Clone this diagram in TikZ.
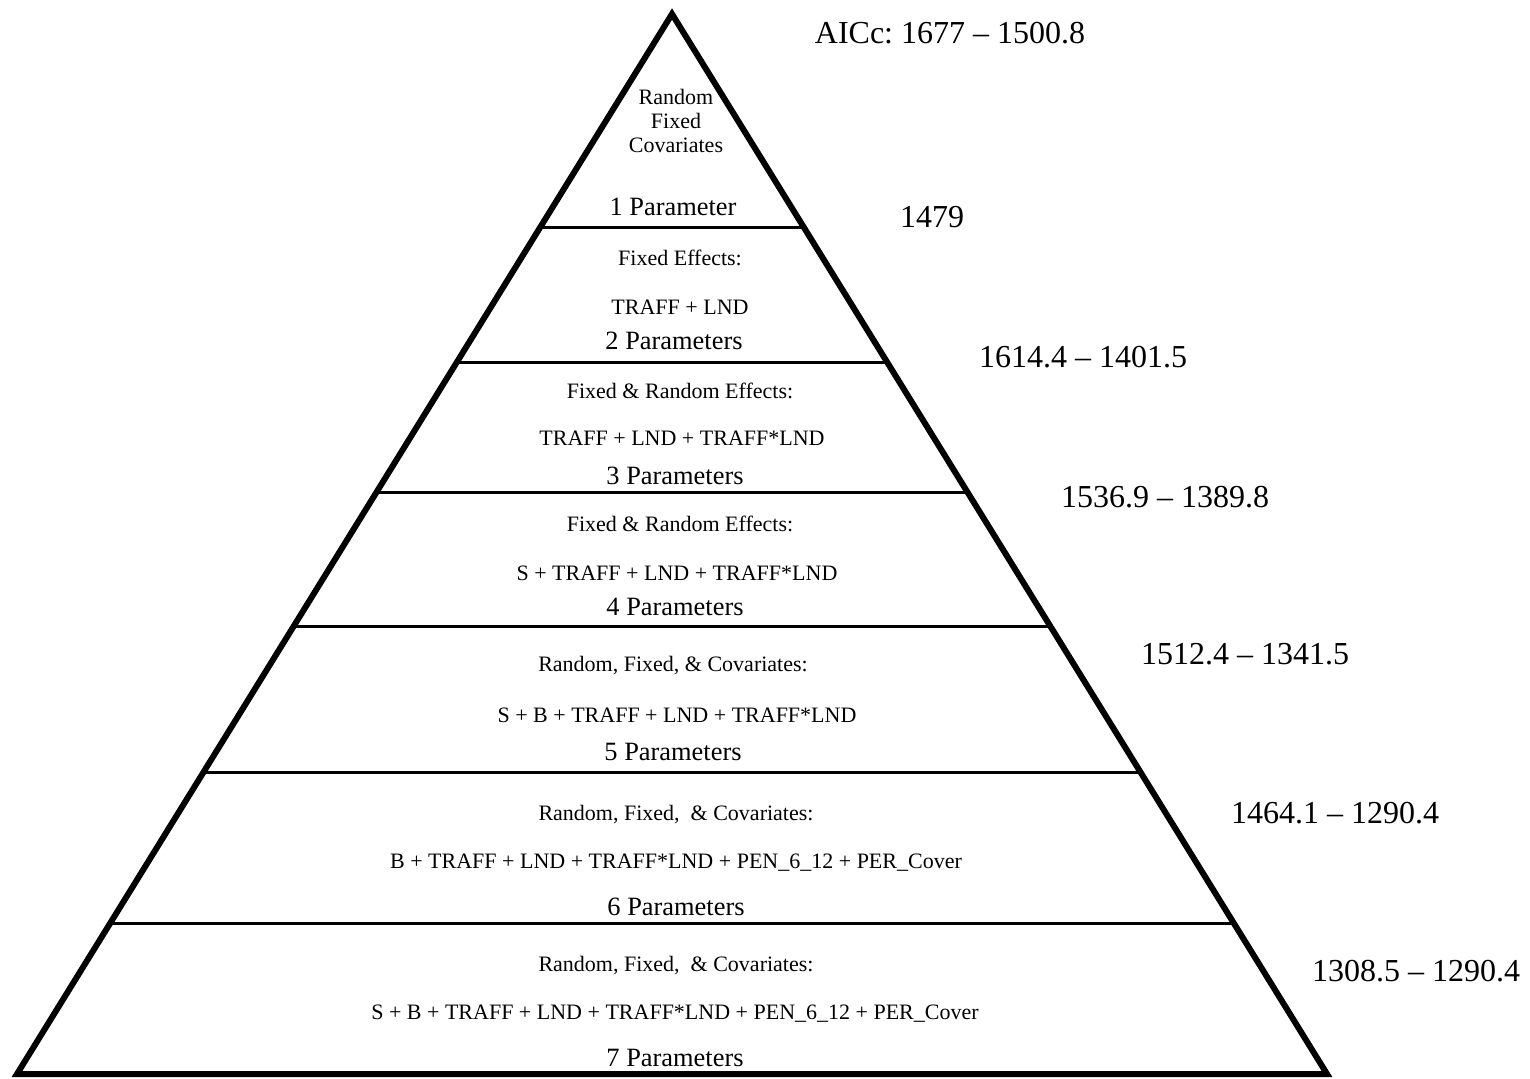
\documentclass[tikz,border=0pt]{standalone}
\usepackage{fontspec}
\setmainfont{Liberation Serif}
\usetikzlibrary{calc}
\frenchspacing

\begin{document}
\begin{tikzpicture}[x=0.5pt,y=-0.5pt,
  sm/.style={font=\fontsize{11}{12}\selectfont,inner sep=0pt},
  par/.style={font=\fontsize{13.2}{14}\selectfont,inner sep=0pt},
  aic/.style={font=\fontsize{16}{18}\selectfont,inner sep=0pt},
  edge/.style={line width=3pt,line join=miter},
  tier/.style={line width=1.5pt}]
\useasboundingbox (0,0) rectangle (1530,1079);
\coordinate (apex) at (672,14);
\coordinate (bl) at (17,1074);
\coordinate (br) at (1327,1074);
% tier dividers
\foreach \y in {228,363,493,627,773,923}
  \draw[tier] ($(apex)!{(\y-14)/1060}!(bl)$) -- ($(apex)!{(\y-14)/1060}!(br)$);
\draw[edge] (apex) -- (bl) -- (br) -- cycle;
% tier 1
\node[sm,align=center] (r1) at (676,121) {Random\\Fixed\\Covariates};
\node[par] (p1) at (673,207) {1 Parameter};
% tier 2
\node[sm] (h2) at (680,258) {Fixed Effects:};
\node[sm] (m2) at (680,307) {TRAFF + LND};
\node[par] (p2) at (674,341) {2 Parameters};
% tier 3
\node[sm] (h3) at (680,391) {Fixed \& Random Effects:};
\node[sm] (m3) at (682,438) {TRAFF + LND + TRAFF*LND};
\node[par] (p3) at (675,476) {3 Parameters};
% tier 4
\node[sm] (h4) at (680,524) {Fixed \& Random Effects:};
\node[sm] (m4) at (677,573) {S + TRAFF + LND + TRAFF*LND};
\node[par] (p4) at (675,607) {4 Parameters};
% tier 5
\node[sm] (h5) at (673,666) {Random, Fixed, \& Covariates:};
\node[sm] (m5) at (677,715) {S + B + TRAFF + LND + TRAFF*LND};
\node[par] (p5) at (673,752) {5 Parameters};
% tier 6
\node[sm] (h6) at (676,815) {Random, Fixed,\ \ \& Covariates:};
\node[sm] (m6) at (676,863) {B + TRAFF + LND + TRAFF*LND + PEN\_6\_12 + PER\_Cover};
\node[par] (p6) at (676,907) {6 Parameters};
% tier 7
\node[sm] (h7) at (676,966) {Random, Fixed,\ \ \& Covariates:};
\node[sm] (m7) at (675,1014) {S + B + TRAFF + LND + TRAFF*LND + PEN\_6\_12 + PER\_Cover};
\node[par] (p7) at (675,1058) {7 Parameters};
% AICc ranges
\node[aic] (v0) at (950,33) {AICc: 1677 -- 1500.8};
\node[aic] (v1) at (932,217) {1479};
\node[aic] (v2) at (1083,357) {1614.4 -- 1401.5};
\node[aic] (v3) at (1165,497) {1536.9 -- 1389.8};
\node[aic] (v4) at (1245,654) {1512.4 -- 1341.5};
\node[aic] (v5) at (1335,813) {1464.1 -- 1290.4};
\node[aic] (v6) at (1416,971) {1308.5 -- 1290.4};
\end{tikzpicture}
\end{document}
